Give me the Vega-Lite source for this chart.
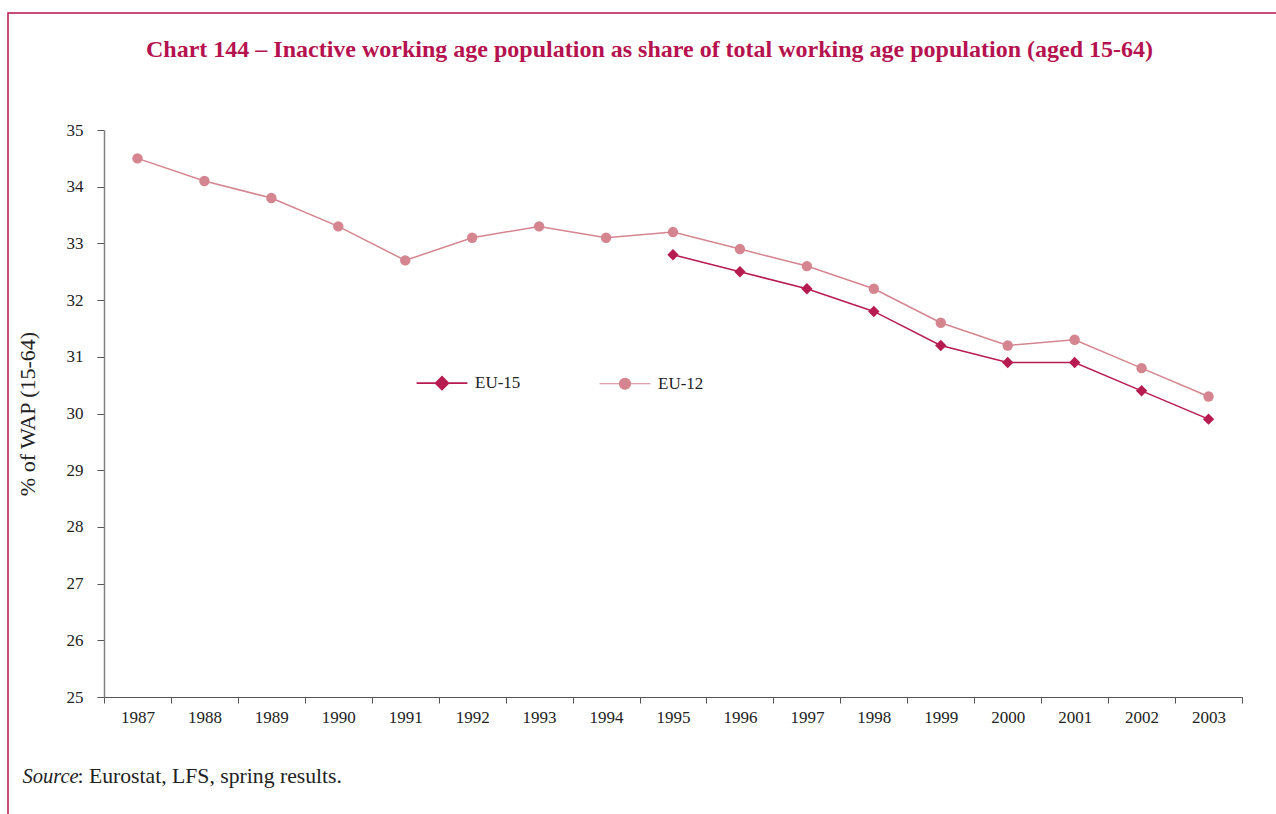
{
  "$schema": "https://vega.github.io/schema/vega-lite/v6.json",
  "autosize": "none",
  "padding": {"left": 8, "top": 13, "right": -3, "bottom": -3},
  "width": 1271,
  "height": 804,
  "background": "white",
  "config": {
    "view": {"stroke": "#b5124f", "strokeWidth": 1.5},
    "font": "Liberation Serif",
    "axis": {"labelFont": "Liberation Serif", "titleFont": "Liberation Serif"},
    "legend": {"labelFont": "Liberation Serif"}
  },
  "title": {
    "text": "Chart 144 – Inactive working age population as share of total working age population (aged 15-64)",
    "font": "Liberation Serif",
    "fontSize": 24,
    "fontWeight": "bold",
    "color": "#b5124f",
    "anchor": "middle",
    "frame": "group",
    "offset": 0,
    "dx": 6,
    "dy": 68,
    "baseline": "alphabetic"
  },
  "data": {
    "values": [
      {"year": "1987", "series": "EU-12", "value": 34.5},
      {"year": "1988", "series": "EU-12", "value": 34.1},
      {"year": "1989", "series": "EU-12", "value": 33.8},
      {"year": "1990", "series": "EU-12", "value": 33.3},
      {"year": "1991", "series": "EU-12", "value": 32.7},
      {"year": "1992", "series": "EU-12", "value": 33.1},
      {"year": "1993", "series": "EU-12", "value": 33.3},
      {"year": "1994", "series": "EU-12", "value": 33.1},
      {"year": "1995", "series": "EU-12", "value": 33.2},
      {"year": "1996", "series": "EU-12", "value": 32.9},
      {"year": "1997", "series": "EU-12", "value": 32.6},
      {"year": "1998", "series": "EU-12", "value": 32.2},
      {"year": "1999", "series": "EU-12", "value": 31.6},
      {"year": "2000", "series": "EU-12", "value": 31.2},
      {"year": "2001", "series": "EU-12", "value": 31.3},
      {"year": "2002", "series": "EU-12", "value": 30.8},
      {"year": "2003", "series": "EU-12", "value": 30.3},
      {"year": "1995", "series": "EU-15", "value": 32.8},
      {"year": "1996", "series": "EU-15", "value": 32.5},
      {"year": "1997", "series": "EU-15", "value": 32.2},
      {"year": "1998", "series": "EU-15", "value": 31.8},
      {"year": "1999", "series": "EU-15", "value": 31.2},
      {"year": "2000", "series": "EU-15", "value": 30.9},
      {"year": "2001", "series": "EU-15", "value": 30.9},
      {"year": "2002", "series": "EU-15", "value": 30.4},
      {"year": "2003", "series": "EU-15", "value": 29.9}
    ]
  },
  "encoding": {
    "y": {
      "field": "value",
      "type": "quantitative",
      "scale": {"domain": [25, 35], "range": [684, 117], "nice": false, "zero": false},
      "axis": {
        "title": "% of WAP (15-64)",
        "titleFont": "Liberation Serif",
        "titleFontSize": 22,
        "titleFontWeight": "normal",
        "titleColor": "#222222",
        "titlePadding": 27,
        "offset": -96,
        "values": [25, 26, 27, 28, 29, 30, 31, 32, 33, 34, 35],
        "grid": false,
        "domainColor": "#808080",
        "domainWidth": 1.5,
        "tickColor": "#555555",
        "tickSize": 7,
        "labelFont": "Liberation Serif",
        "labelFontSize": 17,
        "labelColor": "#222222",
        "labelPadding": 14
      }
    },
    "color": {
      "field": "series",
      "type": "nominal",
      "scale": {"domain": ["EU-15", "EU-12"], "range": ["#b71c50", "#d4858f"]},
      "legend": {
        "orient": "none",
        "legendX": 421,
        "legendY": 357,
        "direction": "horizontal",
        "columns": 2,
        "title": null,
        "padding": 0,
        "symbolSize": 558,
        "symbolStrokeWidth": 1.5,
        "symbolOpacity": 1,
        "labelFont": "Liberation Serif",
        "labelFontSize": 17,
        "labelColor": "#222222",
        "labelOffset": 20,
        "columnPadding": 76,
        "encode": {
          "symbols": {
            "update": {
              "shape": {"signal": "datum.value === 'EU-15' ? 'M-2.15,0H-0.45 M0,-0.55L0.55,0L0,0.55L-0.55,0Z M0.45,0H2.15' : 'M-2.15,0H-0.47 M0.47,0A0.47,0.47 0 1,1 -0.47,0A0.47,0.47 0 1,1 0.47,0 M0.47,0H2.15'"},
              "size": {"value": 558},
              "stroke": {"scale": "color", "field": "value"},
              "strokeWidth": {"signal": "datum.value === 'EU-15' ? 1.6 : 1.1"}
            }
          }
        }
      }
    }
  },
  "layer": [
    {
      "mark": {"type": "line", "strokeWidth": 1.5},
      "encoding": {
        "x": {
          "field": "year",
          "type": "ordinal",
          "scale": {"type": "band", "range": [96, 1234], "paddingInner": 0, "paddingOuter": 0},
          "axis": {
            "orient": "bottom",
            "title": ": Eurostat, LFS, spring results.",
            "titleFont": "Liberation Serif",
            "titleFontSize": 21.7,
            "titleFontWeight": "normal",
            "titleColor": "#222222",
            "titleAlign": "left",
            "titleBaseline": "alphabetic",
            "titleAnchor": "start",
            "titleX": 69,
            "titleY": 85,
            "offset": -120,
            "labelAngle": 0,
            "tickBand": "extent",
            "domainColor": "#555555",
            "tickColor": "#555555",
            "tickSize": 6,
            "labelFont": "Liberation Serif",
            "labelFontSize": 17,
            "labelColor": "#222222",
            "labelPadding": 6
          }
        },
        "strokeWidth": {
          "field": "series",
          "type": "nominal",
          "scale": {"domain": ["EU-15", "EU-12"], "range": [1.6, 1.1]},
          "legend": null
        }
      }
    },
    {
      "transform": [{"filter": "datum.series === 'EU-12'"}],
      "mark": {"type": "point", "filled": true, "opacity": 1, "shape": "circle", "size": 108},
      "encoding": {
        "x": {
          "field": "year",
          "type": "ordinal",
          "scale": {"type": "band", "range": [96, 1234], "paddingInner": 0, "paddingOuter": 0},
          "axis": {
            "orient": "bottom",
            "title": "Source",
            "titleFont": "Liberation Serif",
            "titleFontSize": 20.5,
            "titleFontStyle": "italic",
            "titleFontWeight": "normal",
            "titleColor": "#222222",
            "titleAlign": "left",
            "titleBaseline": "alphabetic",
            "titleAnchor": "start",
            "titleX": 14,
            "titleY": 85,
            "offset": -120,
            "labels": false,
            "ticks": false,
            "domain": false
          }
        }
      }
    },
    {
      "transform": [{"filter": "datum.series === 'EU-15'"}],
      "mark": {"type": "point", "filled": true, "opacity": 1, "shape": "diamond", "size": 130},
      "encoding": {
        "x": {
          "field": "year",
          "type": "ordinal",
          "scale": {"type": "band", "range": [96, 1234], "paddingInner": 0, "paddingOuter": 0},
          "axis": null
        }
      }
    }
  ],
  "resolve": {"axis": {"x": "independent"}}
}
